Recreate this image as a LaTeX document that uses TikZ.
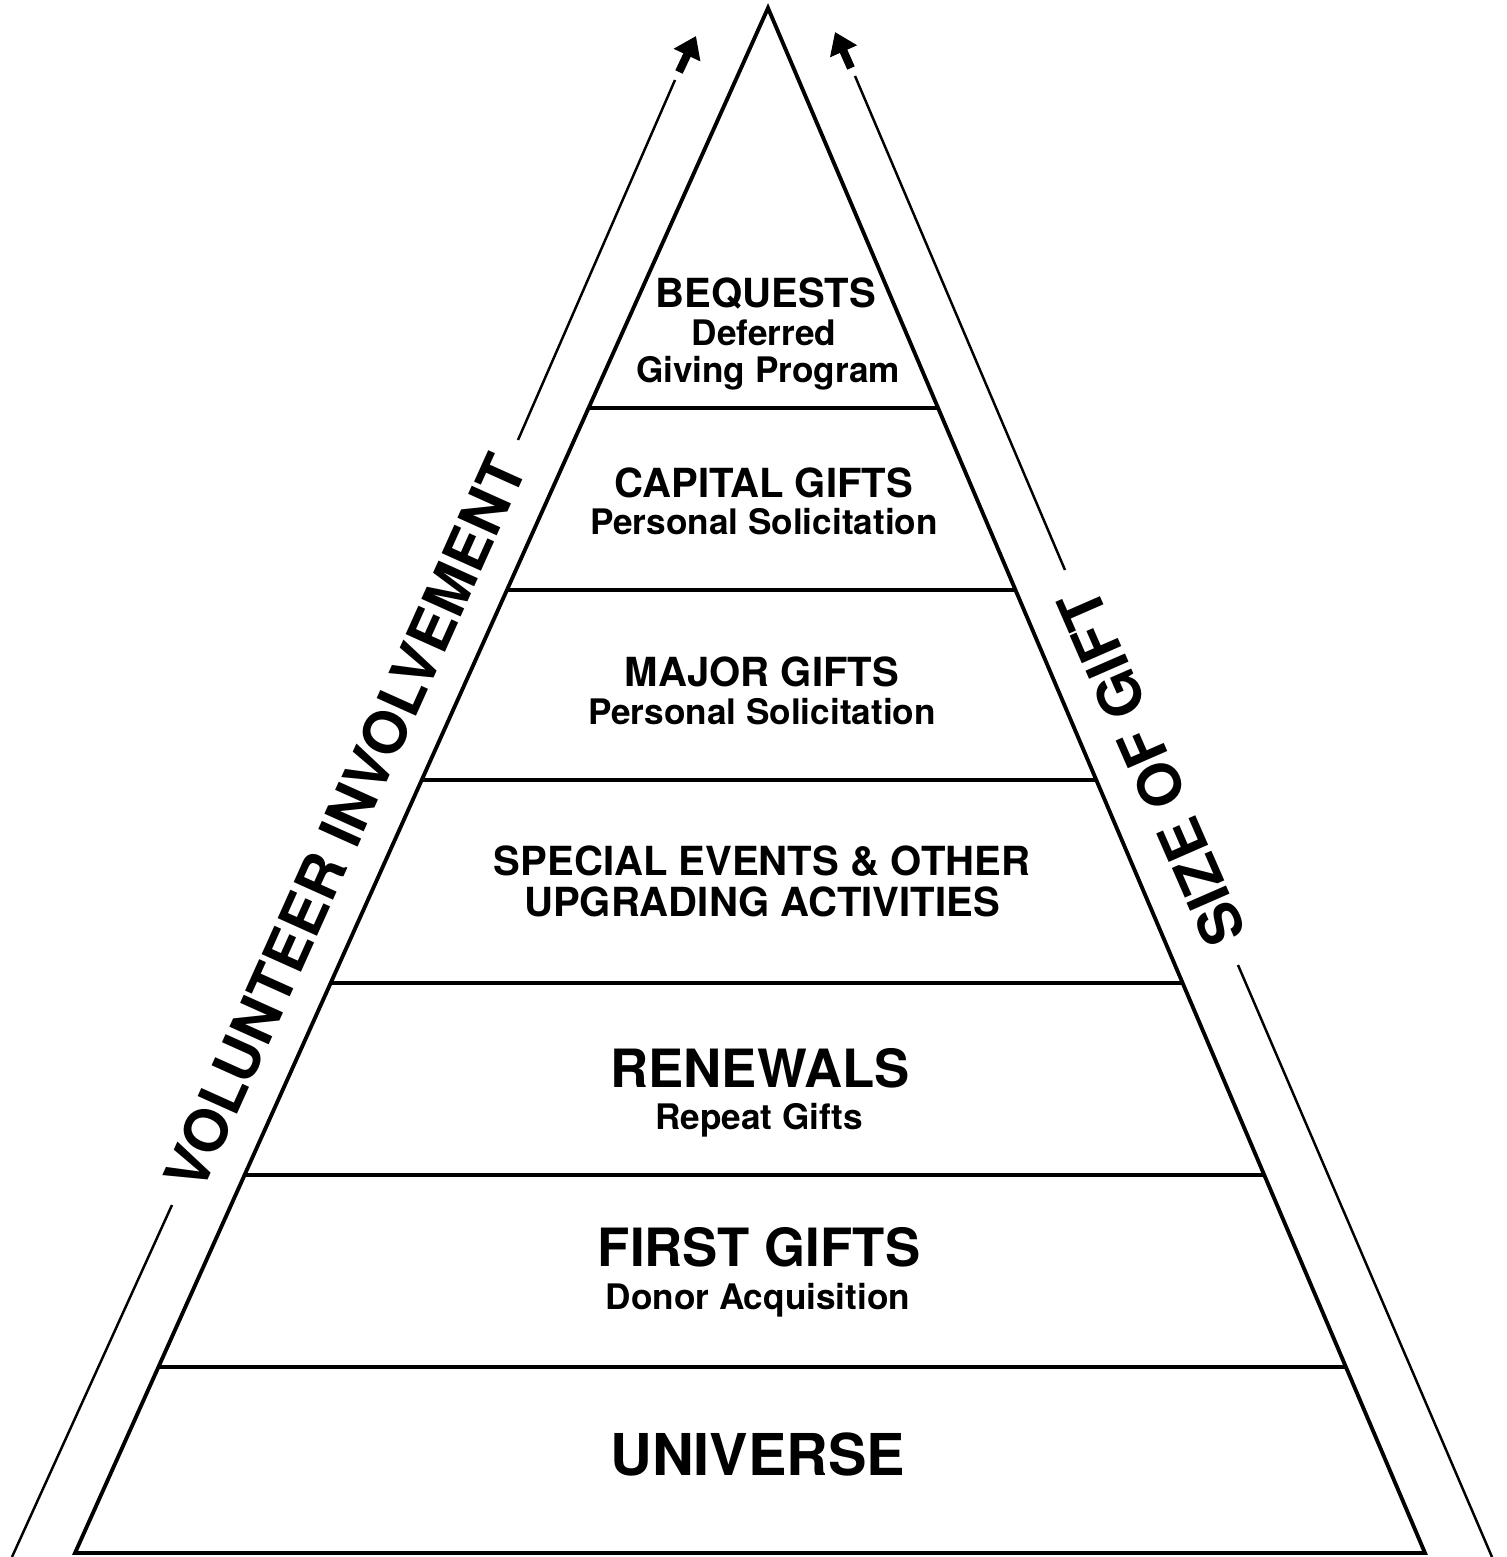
\documentclass[tikz,border=0pt]{standalone}
\usepackage{fontspec}
\setmainfont{TeX Gyre Heros}
\usetikzlibrary{arrows.meta,calc}

\tikzset{
  edge/.style={line width=1.1pt,line join=miter},
  rung/.style={line width=0.9pt},
  guide/.style={line width=0.7pt},
  guidetip/.style={line width=2.3pt,-{Triangle[length=6pt,width=8pt]}},
  bigtier/.style={anchor=base,font=\fontsize{15}{18}\selectfont\bfseries},
  tier/.style={anchor=base,align=center,font=\fontsize{11.4}{11.4}\selectfont\bfseries},
  subtier/.style={anchor=base,font=\fontsize{10}{12}\selectfont\bfseries},
  sidelabel/.style={font=\fontsize{16.8}{20}\selectfont\bfseries}
}

\begin{document}
\begin{tikzpicture}[x=0.01cm,y=-0.01cm]
    \useasboundingbox (0,0) rectangle (1507,1557);

    \coordinate (apex) at (768,8);
    \coordinate (bl) at (75,1553);
    \coordinate (br) at (1425,1553);

    \begin{scope}
        \clip (apex) -- (bl) -- (br) -- cycle;
        \foreach \h in {408,590,780,983,1175,1367}
            \draw[rung] (0,\h) -- (1507,\h);
    \end{scope}
    \draw[edge] (apex) -- (bl) -- (br) -- cycle;

    % left guide
    \coordinate (vbase) at (12,1557);
    \coordinate (vgapa) at (172,1205);
    \coordinate (vgapb) at (518,440);
    \coordinate (vtop) at (675,80);
    \coordinate (vstub) at (679,72);
    \coordinate (vtip) at (696,36);
    \draw[guide] (vbase) -- (vgapa);
    \draw[guide] (vgapb) -- (vtop);
    \draw[guidetip] (vstub) -- (vtip);
    \node[sidelabel,rotate=65.8] (volunteer) at ($(vgapa)!0.5!(vgapb)$) {VOLUNTEER INVOLVEMENT};

    % right guide
    \coordinate (gbase) at (1492,1557);
    \coordinate (ggapa) at (1238,965);
    \coordinate (ggapb) at (1065,570);
    \coordinate (gtop) at (855,76);
    \coordinate (gstub) at (851,68);
    \coordinate (gtip) at (835,32);
    \draw[guide] (gbase) -- (ggapa);
    \draw[guide] (ggapb) -- (gtop);
    \draw[guidetip] (gstub) -- (gtip);
    \node[sidelabel,rotate=113.6] (gift) at ($(ggapa)!0.5!(ggapb)$) {SIZE OF GIFT};

    % tiers
    \node[tier] (bequests) at (766,307) {BEQUESTS};
    \node[subtier] (deferred) at (764,345) {Deferred};
    \node[subtier] (giving) at (768,382) {Giving Program};

    \node[tier] (capital) at (764,497) {CAPITAL GIFTS};
    \node[subtier] (capitalsub) at (764,534) {Personal Solicitation};

    \node[tier] (major) at (762,686) {MAJOR GIFTS};
    \node[subtier] (majorsub) at (762,724) {Personal Solicitation};

    \node[tier] (special) at (762,916) {SPECIAL EVENTS \& OTHER\\UPGRADING ACTIVITIES};

    \node[bigtier] (renewals) at (760,1087) {RENEWALS};
    \node[subtier] (renewalssub) at (759,1129) {Repeat Gifts};

    \node[bigtier] (first) at (759,1266) {FIRST GIFTS};
    \node[subtier] (firstsub) at (758,1309) {Donor Acquisition};

    \node[bigtier,font=\fontsize{16.4}{18}\selectfont\bfseries] (universe) at (758,1475) {UNIVERSE};
\end{tikzpicture}
\end{document}
